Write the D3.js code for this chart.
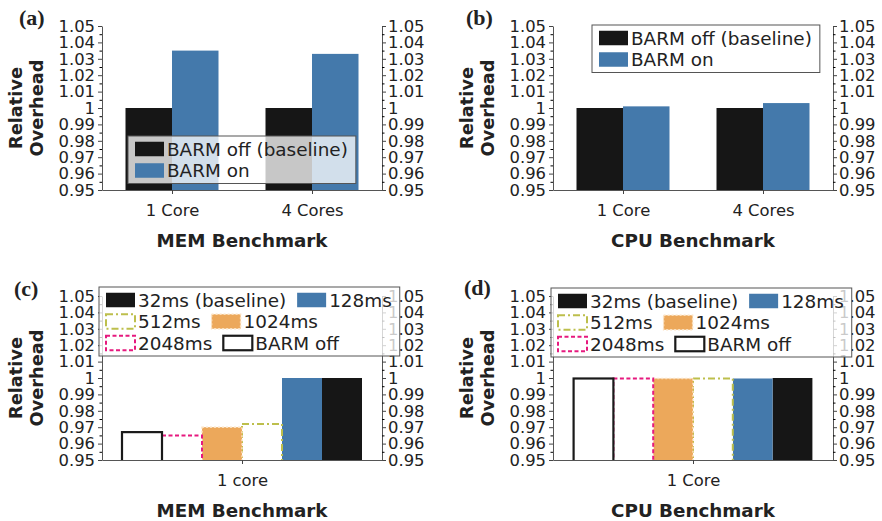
<!DOCTYPE html>
<html>
<head>
<meta charset="utf-8">
<script src="https://cdn.jsdelivr.net/npm/d3@7"></script>
<style>
  body { margin: 0; background: #fff; }
  text { font-family: "DejaVu Sans", sans-serif; fill: #222; }
</style>
</head>
<body>
<div id="chart"></div>
<script>

// ---- data ----
var coreCats = ["1 Core", "4 Cores"];
var barmSeries = ["BARM off (baseline)", "BARM on"];
var memBarm = [[1.0, 1.0], [1.035, 1.033]];
var cpuBarm = [[1.0, 1.0], [1.001, 1.003]];

var refreshSeries = ["32ms (baseline)", "128ms", "512ms", "1024ms", "2048ms", "BARM off"];
var memRefresh = [[1.0], [1.0], [0.972], [0.970], [0.965], [0.967]];
var cpuRefresh = [[1.0], [0.9997], [0.9997], [0.9997], [0.9997], [0.9997]];

var yTicks = [0.95, 0.96, 0.97, 0.98, 0.99, 1.0, 1.01, 1.02, 1.03, 1.04, 1.05];
var yMinor = [0.955, 0.965, 0.975, 0.985, 0.995, 1.005, 1.015, 1.025, 1.035, 1.045];

// ---- look of each series ----
var styles = {
  "BARM off (baseline)": {fill: "#161616"},
  "BARM on": {fill: "#4479ab"},
  "32ms (baseline)": {fill: "#161616"},
  "128ms": {fill: "#4479ab"},
  "512ms": {fill: "#fff", stroke: "#bdbf4c", dash: "7,3,2,3", width: 2},
  "1024ms": {fill: "#eca85b", stroke: "#fbe2c2", dash: "2,2", width: 1.5},
  "2048ms": {fill: "#fff", stroke: "#e6197e", dash: "4,2.5", width: 2},
  "BARM off": {fill: "#fff", stroke: "#1a1a1a", width: 2.2}
};

var svg = d3.select("#chart")
    .append("svg")
    .attr("width", 882)
    .attr("height", 521);

var fmt = function (d) { return String(+d.toFixed(2)); };
var clipId = 0;

function swatch(g, name, x, y, w, h) {
  var s = styles[name];
  g.append("rect")
      .attr("x", x).attr("y", y).attr("width", w).attr("height", h)
      .attr("fill", s.fill)
      .attr("stroke", s.stroke || "none")
      .attr("stroke-width", s.width || 0)
      .attr("stroke-dasharray", s.dash || null);
}

function drawPanel(p) {
  var g = svg.append("g");

  var y = d3.scaleLinear().domain([0.95, 1.05]).range([p.y1, p.y0]);
  var x = d3.scalePoint().domain(p.cats).range([p.x0, p.x1]).padding(0.5);
  var order = p.reverse ? p.series.slice().reverse() : p.series;
  var xs = d3.scaleBand()
      .domain(order)
      .range([-p.barW * p.series.length / 2, p.barW * p.series.length / 2]);

  // bars grow from below the axis and are clipped to the plot, like matplotlib
  clipId++;
  svg.append("clipPath").attr("id", "clip" + clipId)
      .append("rect")
      .attr("x", p.x0).attr("y", p.y0 - 10)
      .attr("width", p.x1 - p.x0).attr("height", p.y1 - p.y0 + 10);
  var bars = g.append("g").attr("clip-path", "url(#clip" + clipId + ")");
  p.series.forEach(function (name, i) {
    p.values[i].forEach(function (v, j) {
      swatch(bars, name, x(p.cats[j]) + xs(name), y(v), xs.bandwidth(), y(0.95) - y(v) + 6);
    });
  });

  // left axis
  var left = g.append("g")
      .attr("transform", "translate(" + p.x0 + ",0)")
      .call(d3.axisLeft(y).tickValues(yTicks).tickFormat(fmt).tickSize(4).tickSizeOuter(0).tickPadding(3));
  g.append("g")
      .attr("transform", "translate(" + p.x0 + ",0)")
      .call(d3.axisLeft(y).tickValues(yMinor).tickFormat("").tickSize(2.5))
      .select(".domain").remove();

  // right axis
  var right = g.append("g")
      .attr("transform", "translate(" + p.x1 + ",0)")
      .call(d3.axisRight(y).tickValues(yTicks).tickFormat(fmt).tickSize(4).tickSizeOuter(0).tickPadding(2));
  g.append("g")
      .attr("transform", "translate(" + p.x1 + ",0)")
      .call(d3.axisRight(y).tickValues(yMinor).tickFormat("").tickSize(2.5))
      .select(".domain").remove();

  // bottom axis
  var bottom = g.append("g")
      .attr("transform", "translate(0," + p.y1 + ")")
      .call(d3.axisBottom(x).tickSize(4).tickSizeOuter(0));
  bottom.selectAll("text").attr("y", 26).attr("dy", null);

  [left, right, bottom].forEach(function (a) {
    a.selectAll("text").style("font-size", "16.4px").attr("fill", "#222")
        .style("font-family", "DejaVu Sans");
    a.selectAll("line").attr("stroke", "#444");
    a.select(".domain").attr("stroke", "#555");
  });

  // axis titles
  var cy = (p.y0 + p.y1) / 2;
  ["Relative", "Overhead"].forEach(function (t, i) {
    g.append("text")
        .attr("transform", "translate(" + (p.ylabX + i * 21) + "," + cy + ") rotate(-90)")
        .attr("text-anchor", "middle")
        .style("font-size", "17.8px")
        .style("font-weight", "bold")
        .text(t);
  });
  g.append("text")
      .attr("x", (p.x0 + p.x1) / 2)
      .attr("y", p.y1 + 57)
      .attr("text-anchor", "middle")
      .style("font-size", "18.3px")
      .style("font-weight", "bold")
      .text(p.xTitle);

  // panel letter
  g.append("text")
      .attr("x", p.tagX).attr("y", p.tagY)
      .style("font-family", "Liberation Serif")
      .style("font-size", "22px")
      .style("font-weight", "bold")
      .text(p.tag);

  // legend, drawn last so it dims what sits under it
  var lg = svg.append("g");
  var box = lg.append("rect")
      .attr("x", p.legX).attr("y", p.legY)
      .attr("fill", "#fff").attr("fill-opacity", 0.76)
      .attr("stroke", "#555").attr("stroke-width", 1);
  var rowH = 21.5, sw = 29, sh = 14.5, maxX = 0;
  p.legRows.forEach(function (row, r) {
    var cyRow = p.legY + 13 + r * rowH;
    var cx = p.legX + 7;
    row.forEach(function (name) {
      swatch(lg, name, cx, cyRow - sh / 2, sw, sh);
      var t = lg.append("text")
          .attr("x", cx + sw + 3)
          .attr("y", cyRow)
          .attr("dy", "0.36em")
          .style("font-size", "18.4px")
          .text(name);
      cx = cx + sw + 3 + t.node().getComputedTextLength() + 11;
    });
    maxX = Math.max(maxX, cx - 11);
  });
  box.attr("width", maxX + 8 - p.legX)
     .attr("height", 26 + rowH * (p.legRows.length - 1));
}

drawPanel({x0: 102, x1: 382, y0: 26, y1: 190, cats: coreCats, series: barmSeries, reverse: false,
  values: memBarm, barW: 46.5, xTitle: "MEM Benchmark", ylabX: 22, tag: "(a)", tagX: 19, tagY: 25,
  legX: 128, legY: 136, legRows: [["BARM off (baseline)"], ["BARM on"]]});

drawPanel({x0: 553, x1: 833, y0: 26, y1: 190, cats: coreCats, series: barmSeries, reverse: false,
  values: cpuBarm, barW: 46.5, xTitle: "CPU Benchmark", ylabX: 473, tag: "(b)", tagX: 466, tagY: 25,
  legX: 592, legY: 25, legRows: [["BARM off (baseline)"], ["BARM on"]]});

drawPanel({x0: 102, x1: 382, y0: 296, y1: 460, cats: ["1 core"], series: refreshSeries, reverse: true,
  values: memRefresh, barW: 40, xTitle: "MEM Benchmark", ylabX: 22, tag: "(c)", tagX: 14, tagY: 296,
  legX: 99, legY: 287, legRows: [["32ms (baseline)", "128ms"], ["512ms", "1024ms"], ["2048ms", "BARM off"]]});

drawPanel({x0: 553, x1: 833, y0: 296, y1: 460, cats: ["1 Core"], series: refreshSeries, reverse: true,
  values: cpuRefresh, barW: 39.8, xTitle: "CPU Benchmark", ylabX: 473, tag: "(d)", tagX: 464, tagY: 295,
  legX: 551, legY: 288, legRows: [["32ms (baseline)", "128ms"], ["512ms", "1024ms"], ["2048ms", "BARM off"]]});

</script>
</body>
</html>
